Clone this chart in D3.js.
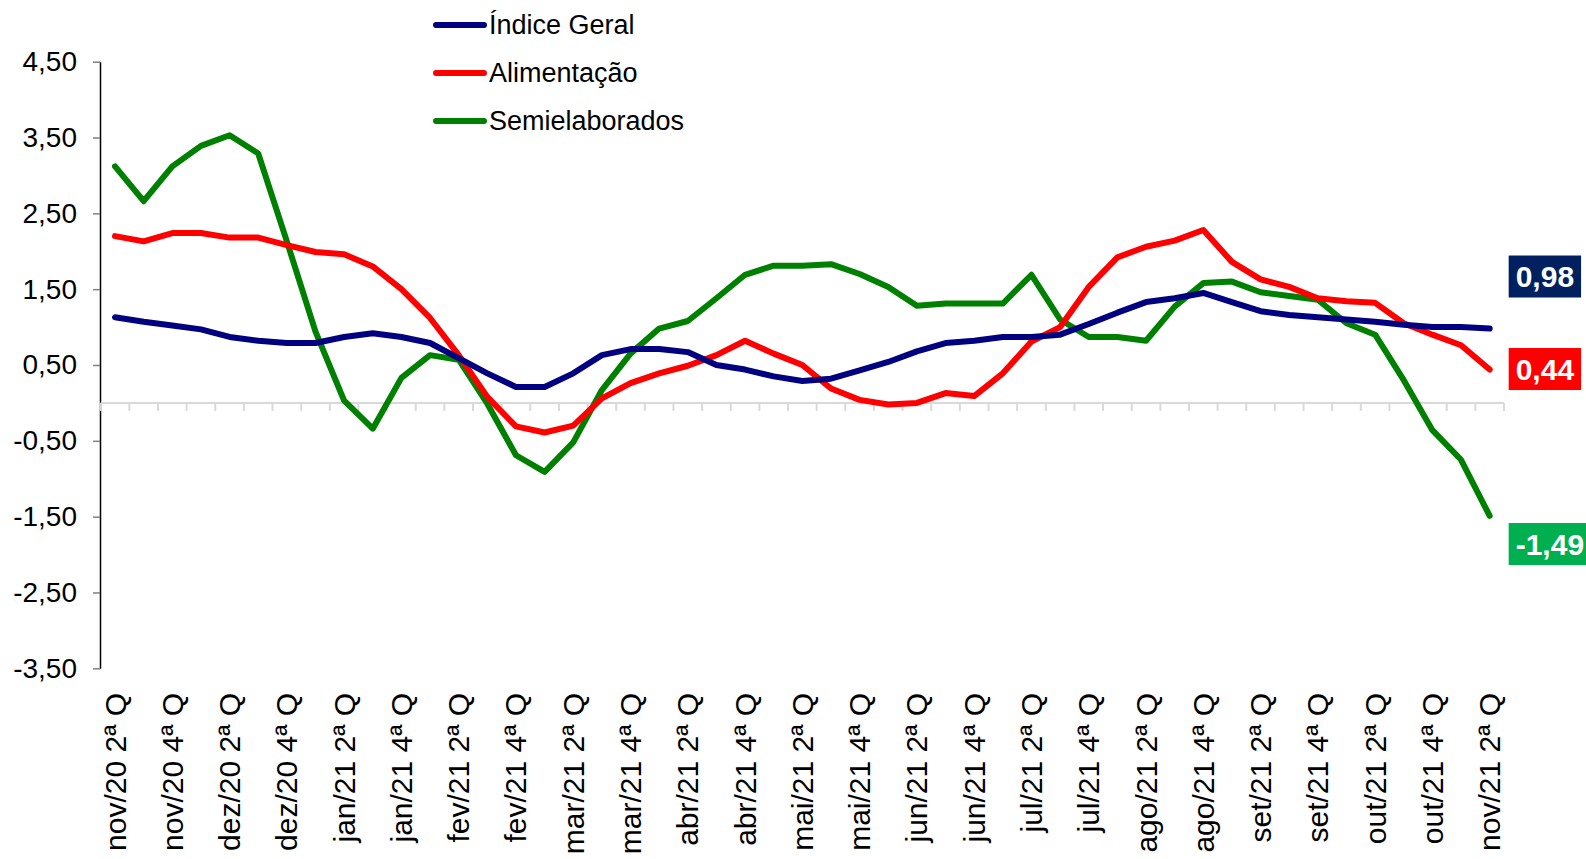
<!DOCTYPE html>
<meta charset="utf-8">
<style>
  body {
    margin: 0;
    background-color: #ffffff;
  }

  text {
    font-family: "Liberation Sans", Arial, sans-serif;
    fill: #000000;
  }

  .axis--y path {
    stroke: #000000;
    stroke-width: 1.5px;
  }

  .axis--y line {
    stroke: #808080;
    stroke-width: 1.5px;
  }

  .axis--x path,
  .axis--x line {
    stroke: #d9d9d9;
    stroke-width: 2px;
  }

  .serie {
    fill: none;
    stroke-width: 6px;
    stroke-linejoin: round;
    stroke-linecap: round;
  }
</style>
<svg width="1586" height="859"></svg>
<script src="https://d3js.org/d3.v7.min.js"></script>

<script>
  // meses / quadrissemanas
  var months = ["nov/20", "dez/20", "jan/21", "fev/21", "mar/21", "abr/21", "mai/21",
    "jun/21", "jul/21", "ago/21", "set/21", "out/21", "nov/21"];
  var quads = ["1ª Q", "2ª Q", "3ª Q", "4ª Q"];

  var categories = [];
  months.forEach(function (m, mi) {
    quads.forEach(function (q, qi) {
      if (mi == 0 && qi == 0) return;
      if (mi == months.length - 1 && qi > 1) return;
      categories.push(m + " " + q);
    });
  });

  var seriesNames = ["Índice Geral", "Alimentação", "Semielaborados"];
  var seriesColors = ["#000080", "#ff0000", "#008000"];

  var indiceGeral = [1.13, 1.07, 1.02, 0.97, 0.87, 0.82, 0.79, 0.79, 0.87, 0.92,
    0.87, 0.79, 0.59, 0.39, 0.21, 0.21, 0.39, 0.63, 0.71, 0.71,
    0.67, 0.50, 0.44, 0.35, 0.29, 0.32, 0.43, 0.54, 0.68, 0.79,
    0.82, 0.87, 0.87, 0.90, 1.04, 1.19, 1.33, 1.38, 1.45, 1.33,
    1.21, 1.16, 1.13, 1.10, 1.07, 1.03, 1.00, 1.00, 0.98];

  var alimentacao = [2.20, 2.13, 2.24, 2.24, 2.18, 2.18, 2.08, 1.99, 1.96, 1.80,
    1.50, 1.12, 0.63, 0.08, -0.31, -0.39, -0.30, 0.06, 0.26, 0.39,
    0.49, 0.63, 0.82, 0.65, 0.50, 0.19, 0.04, -0.02, 0.00, 0.13,
    0.09, 0.39, 0.81, 1.00, 1.53, 1.92, 2.06, 2.14, 2.28, 1.86,
    1.63, 1.53, 1.38, 1.34, 1.32, 1.05, 0.90, 0.76, 0.44];

  var semielaborados = [3.12, 2.66, 3.12, 3.39, 3.53, 3.29, 2.13, 0.94, 0.03, -0.34,
    0.33, 0.63, 0.57, -0.01, -0.69, -0.91, -0.52, 0.17, 0.65, 0.98,
    1.08, 1.38, 1.69, 1.81, 1.81, 1.83, 1.70, 1.53, 1.28, 1.31,
    1.31, 1.31, 1.69, 1.10, 0.87, 0.87, 0.82, 1.27, 1.58, 1.60,
    1.46, 1.41, 1.36, 1.05, 0.90, 0.30, -0.36, -0.75, -1.49];

  var yTicks = [4.5, 3.5, 2.5, 1.5, 0.5, -0.5, -1.5, -2.5, -3.5];

  // rótulos do último valor
  var lastLabels = ["0,98", "0,44", "-1,49"];
  var lastLabelPos = [1.667, 0.447, -1.861];
  var lastLabelColors = ["#002060", "#ff0000", "#00b050"];

  var svg = d3.select("svg"),
    plotLeft = 100.7, plotRight = 1504, plotTop = 61.7, plotBottom = 668.3;

  var x = d3.scaleBand().domain(categories).range([plotLeft, plotRight]).padding(0),
    y = d3.scaleLinear().domain([-3.5, 4.5]).range([plotBottom, plotTop]);

  var fmt = function (d) { return d.toFixed(2).replace(".", ","); };

  // eixo y
  var gy = svg.append("g")
    .attr("class", "axis axis--y")
    .attr("transform", "translate(100,0)")
    .call(d3.axisLeft(y).tickValues(yTicks).tickFormat(fmt).tickSizeInner(7).tickSizeOuter(0).tickPadding(16));
  gy.selectAll("text").style("font-size", "28px");

  // eixo x na linha do zero
  var gx = svg.append("g")
    .attr("class", "axis axis--x")
    .attr("transform", "translate(0," + y(0) + ")");
  gx.append("line")
    .attr("x1", plotLeft).attr("x2", plotRight)
    .attr("y1", 0).attr("y2", 0);
  gx.selectAll(".tk")
    .data(d3.range(categories.length + 1))
    .enter().append("line")
    .attr("class", "tk")
    .attr("x1", function (i) { return plotLeft + i * x.bandwidth(); })
    .attr("x2", function (i) { return plotLeft + i * x.bandwidth(); })
    .attr("y1", 0).attr("y2", 8);

  // rótulos das categorias (2ª e 4ª Q)
  svg.append("g")
    .selectAll("text")
    .data(categories.filter(function (c, i) { return i % 2 == 0; }))
    .enter().append("text")
    .attr("transform", function (d) {
      return "translate(" + (x(d) + x.bandwidth() / 2) + ",693) rotate(-90)";
    })
    .attr("text-anchor", "end")
    .attr("dy", "0.35em")
    .style("font-size", "30px")
    .text(function (d) { return d; });

  var seriesData = [indiceGeral, alimentacao, semielaborados];

  var line = d3.line()
    .x(function (d, i) { return x(categories[i]) + x.bandwidth() / 2; })
    .y(function (d) { return y(d); });

  // verde por baixo, azul por cima
  [2, 1, 0].forEach(function (k) {
    svg.append("path")
      .datum(seriesData[k])
      .attr("class", "serie")
      .attr("stroke", seriesColors[k])
      .attr("d", line);
  });

  // legenda
  var legend = svg.append("g").selectAll("g")
    .data(seriesNames)
    .enter().append("g")
    .attr("transform", function (d, i) { return "translate(436," + (25 + i * 48) + ")"; });
  legend.append("line")
    .attr("x1", 0).attr("x2", 48)
    .attr("stroke", function (d, i) { return seriesColors[i]; })
    .attr("stroke-width", 6)
    .attr("stroke-linecap", "round");
  legend.append("text")
    .attr("x", 53)
    .attr("dy", "0.35em")
    .style("font-size", "27px")
    .text(function (d) { return d; });

  // caixas com o último valor
  var lastX = x(categories[categories.length - 1]) + x.bandwidth() / 2;
  lastLabels.forEach(function (lab, i) {
    var g = svg.append("g")
      .attr("transform", "translate(" + (lastX + 19) + "," + y(lastLabelPos[i]) + ")");
    var rect = g.append("rect").attr("fill", lastLabelColors[i]);
    var t = g.append("text")
      .attr("dy", "0.35em")
      .style("font-size", "30px")
      .style("font-weight", "bold")
      .style("fill", "#ffffff")
      .text(lab);
    var w = t.node().getComputedTextLength();
    t.attr("x", 7);
    rect.attr("x", 0).attr("y", -21).attr("width", w + 14).attr("height", 42);
  });
</script>
